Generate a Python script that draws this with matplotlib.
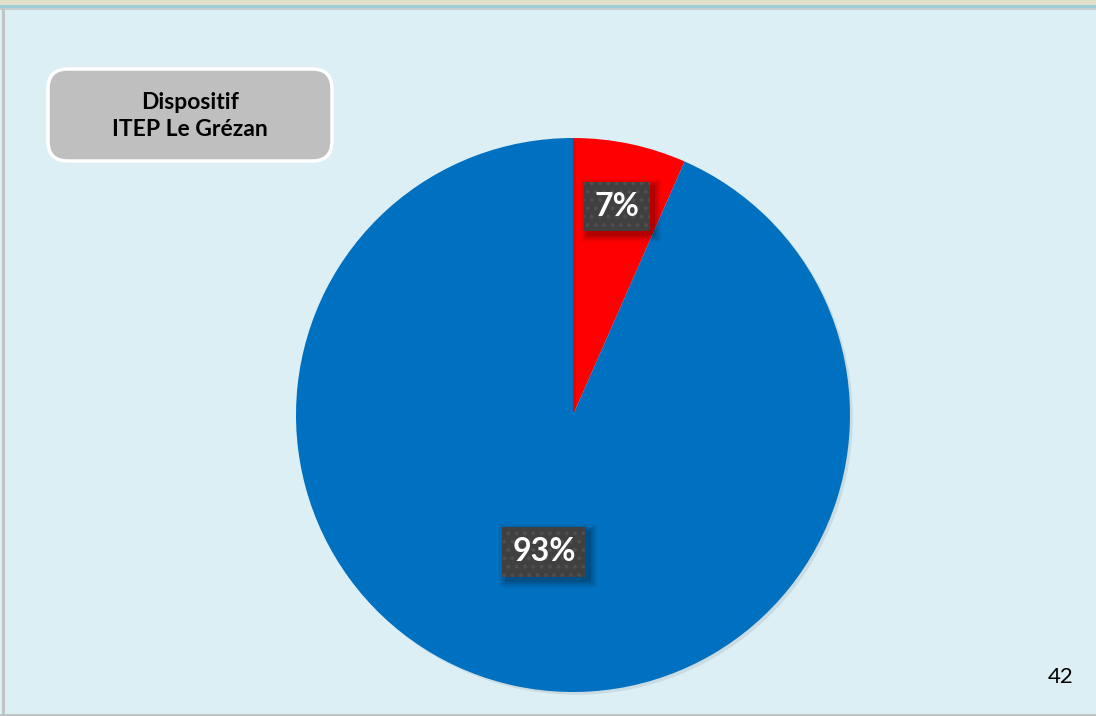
import matplotlib.pyplot as plt
import matplotlib.patheffects as pe
from matplotlib.patches import Rectangle, FancyBboxPatch
import numpy as np

# données
valeurs = [6.6, 93.4]
etiquettes = ['7%', '93%']
couleurs = ['#FF0000', '#0070C0']
dist_etiquettes = [0.77, 0.505]
titre = 'Dispositif\nITEP Le Grézan'
num_page = '42'

W, H = 1096, 716
plt.rcParams['font.family'] = ['Lato', 'DejaVu Sans']
plt.rcParams['hatch.linewidth'] = 1.6


def fx(px):
    return px / W


def fy(py):
    return 1 - py / H


def main():
    fig = plt.figure(figsize=(W / 100, H / 100), dpi=100)
    fig.patch.set_facecolor('#DCEFF5')

    # bandeau du haut et bordures
    fig.patches.append(Rectangle((0, fy(5)), 1, 5 / H, transform=fig.transFigure,
                                 facecolor='#E2DFCB', edgecolor='none'))
    fig.patches.append(Rectangle((0, fy(9)), 1, 4 / H, transform=fig.transFigure,
                                 facecolor='#9ECDD6', edgecolor='none'))
    fig.patches.append(Rectangle((0, fy(10)), 1, 1.5 / H, transform=fig.transFigure,
                                 facecolor='#C8CED0', edgecolor='none'))
    fig.patches.append(Rectangle((fx(2), 0), 3 / W, fy(9), transform=fig.transFigure,
                                 facecolor='#C0C4C6', edgecolor='none'))
    fig.patches.append(Rectangle((0, 0), 1, 2 / H, transform=fig.transFigure,
                                 facecolor='#C0C4C6', edgecolor='none'))

    # camembert
    cx, cy, r = 573, 415, 277
    ax = fig.add_axes([fx(cx - r), fy(cy + r), 2 * r / W, 2 * r / H])
    wedges, _ = ax.pie(valeurs, colors=couleurs, startangle=90, counterclock=False,
                       wedgeprops=dict(linewidth=0))
    for w in wedges:
        w.set_path_effects([pe.SimplePatchShadow(offset=(2, -2), shadow_rgbFace='#000000', alpha=0.08),
                            pe.Normal()])
        w.set_zorder(1)
    ax.set_xlim(-1, 1)
    ax.set_ylim(-1, 1)
    ax.set_aspect('equal')
    ax.axis('off')

    textes = []
    for w, lab, d in zip(wedges, etiquettes, dist_etiquettes):
        ang = np.deg2rad((w.theta1 + w.theta2) / 2)
        t = ax.text(d * np.cos(ang), d * np.sin(ang), lab, ha='center', va='center',
                    fontsize=23, fontweight='bold', color='white', zorder=5,
                    bbox=dict(boxstyle='square,pad=0.32', facecolor='#404040',
                              edgecolor='#4F4F4F', linewidth=0, hatch='..'))
        textes.append(t)

    # ombres floues des étiquettes
    fig.canvas.draw()
    for t in textes:
        bb = t.get_bbox_patch().get_window_extent()
        for k, a in zip([7, 5, 3, 1], [0.05, 0.07, 0.09, 0.12]):
            ombre = Rectangle((bb.x0 + 4 - k, bb.y0 - 4 - k), bb.width + 2 * k,
                              bb.height + 2 * k, transform=None,
                              facecolor='black', alpha=a, edgecolor='none', zorder=3)
            ax.add_artist(ombre)

    # encadré titre
    fig.patches.append(FancyBboxPatch((fx(48), fy(161)), fx(284), 92 / H,
                                      boxstyle='round,pad=0,rounding_size=0.018',
                                      transform=fig.transFigure, facecolor='#BFBFBF',
                                      edgecolor='white', linewidth=2.5,
                                      mutation_aspect=W / H))
    fig.text(fx(190), fy(116), titre, ha='center', va='center', fontsize=16.5,
             fontweight='bold', color='black', linespacing=1.4)

    fig.text(fx(1061), fy(677), num_page, ha='center', va='center', fontsize=16, color='black')

    fig.savefig('out.png', dpi=100, facecolor=fig.get_facecolor())


if __name__ == '__main__':
    main()
